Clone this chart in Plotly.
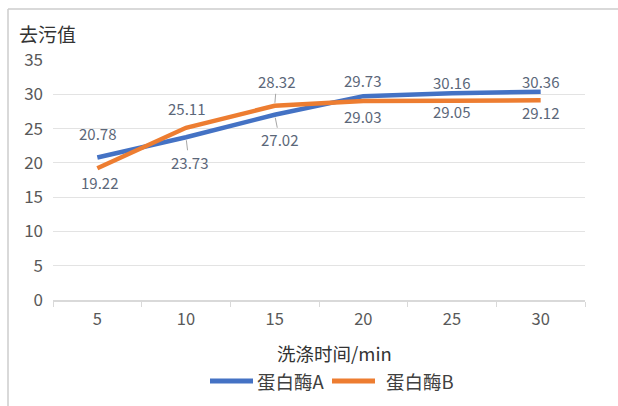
import plotly.graph_objects as go

# Washing time (min) and detergency values for two proteases
wash_time = ["5", "10", "15", "20", "25", "30"]
enzyme_a = [20.78, 23.73, 27.02, 29.73, 30.16, 30.36]
enzyme_b = [19.22, 25.11, 28.32, 29.03, 29.05, 29.12]
series_names = ["蛋白酶A", "蛋白酶B"]
y_ticks = [0, 5, 10, 15, 20, 25, 30, 35]

# label offsets (pixels, relative to the point) and whether a leader line is drawn
offs_a = [(0, -24, False), (3, 25, True), (5, 25, True), (-1, -16, False), (-1, -11, False), (0, -10, False)]
offs_b = [(2, 14, False), (0, -19, False), (2, -24, True), (-1, 16, False), (-1, 11, False), (0, 12, False)]

BLUE = "#4472C4"
ORANGE = "#ED7D31"
FONT = "Noto Sans CJK SC"

W, H = 618, 406
L, R, T, B = 53, 33, 60, 106
PW, PH = W - L - R, H - T - B


def px(x):
    return (x - L) / PW


def py(y):
    return (H - B - y) / PH


fig = go.Figure()
for name, vals, col in [(series_names[0], enzyme_a, BLUE), (series_names[1], enzyme_b, ORANGE)]:
    fig.add_trace(go.Scatter(
        x=wash_time, y=vals, mode="lines", name=name,
        line=dict(color=col, width=4.5), showlegend=False,
        hoverinfo="x+y",
    ))

annotations = []
for vals, offs in [(enzyme_a, offs_a), (enzyme_b, offs_b)]:
    # category index positions on the x axis
    for i, (v, (ax, ay, leader)) in enumerate(zip(vals, offs)):
        annotations.append(dict(
            x=i, y=v, xref="x", yref="y", text=f"{v:.2f}",
            showarrow=True, ax=ax, ay=ay, axref="pixel", ayref="pixel",
            arrowhead=0, arrowwidth=1, standoff=3,
            arrowcolor="#a6a6a6" if leader else "rgba(0,0,0,0)",
            font=dict(family=FONT, size=15, color="#5b6779"),
        ))

# chart title, axis title
annotations.append(dict(x=px(17), y=py(34), xref="paper", yref="paper", text="去污值",
                        showarrow=False, xanchor="left", yanchor="middle",
                        font=dict(family=FONT, size=19, color="#333333")))
annotations.append(dict(x=px(334), y=py(353), xref="paper", yref="paper", text="洗涤时间/min",
                        showarrow=False, xanchor="center", yanchor="middle",
                        font=dict(family=FONT, size=18.5, color="#333333")))

# legend
shapes = []
for name, col, x0, x1, xt in [(series_names[0], BLUE, 210, 253, 255), (series_names[1], ORANGE, 332, 375, 384)]:
    shapes.append(dict(type="line", xref="paper", yref="paper", x0=px(x0), x1=px(x1),
                       y0=py(381), y1=py(381), line=dict(color=col, width=5)))
    annotations.append(dict(x=px(xt), y=py(381), xref="paper", yref="paper", text=name,
                            showarrow=False, xanchor="left", yanchor="middle",
                            font=dict(family=FONT, size=18.5, color="#404040")))

# chart frame (left and top edges)
shapes.append(dict(type="line", xref="paper", yref="paper", x0=px(8), x1=px(8),
                   y0=py(9), y1=py(410), line=dict(color="#cccccc", width=1.5)))
shapes.append(dict(type="line", xref="paper", yref="paper", x0=px(8), x1=px(620),
                   y0=py(9), y1=py(9), line=dict(color="#cccccc", width=1.5)))

fig.update_layout(
    width=W, height=H,
    margin=dict(l=L, r=R, t=T, b=B),
    paper_bgcolor="white", plot_bgcolor="white",
    font=dict(family=FONT, size=16, color="#595959"),
    annotations=annotations, shapes=shapes,
    showlegend=False,
)
fig.update_xaxes(
    type="category", range=[-0.5, len(wash_time) - 0.5],
    showgrid=False, showline=True, linecolor="#d9d9d9", linewidth=1.5,
    ticks="outside", tickson="boundaries", ticklen=5, tickcolor="#d9d9d9",
    tickangle=0, ticklabelstandoff=3,
    tickfont=dict(family=FONT, size=16.5, color="#595959"),
)
fig.update_yaxes(
    range=[0, 35], tickvals=y_ticks, showgrid=True, gridcolor="#e3e3e3", gridwidth=1.2,
    zeroline=False, showline=False, ticks="", ticklabelstandoff=9,
    tickfont=dict(family=FONT, size=17, color="#595959"),
)

fig.write_html("out.html")
